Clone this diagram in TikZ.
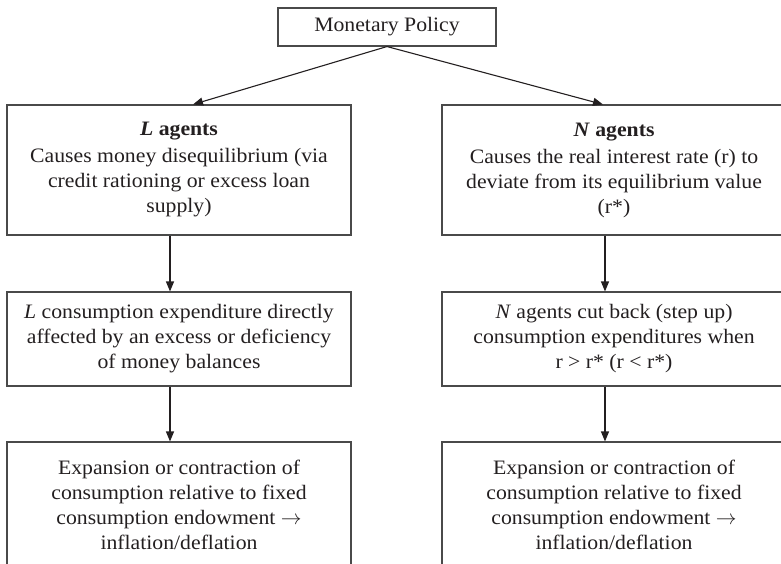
\documentclass[tikz,border=0pt]{standalone}
\usepackage{fontspec}
\setmainfont{Liberation Serif}[FakeStretch=1.06]
\usetikzlibrary{arrows.meta}
\definecolor{framegray}{HTML}{4A4A4A}
\definecolor{inkgray}{HTML}{231F20}
\begin{document}
\begin{tikzpicture}[x=1pt,y=-1pt,
  box/.style={draw=framegray, line width=1.1pt, align=center, inner sep=0pt,
    text=inkgray, font=\fontsize{20.5}{25}\selectfont},
  sidebox/.style={box, minimum width=344pt},
  flow/.style={draw=inkgray, line width=1.1pt, -{Triangle[length=10pt,width=8pt]}}]
  \useasboundingbox (0,0) rectangle (781,564);
  \clip (0,0) rectangle (781,564);

  % top node
  \node[box, minimum width=218pt, minimum height=38pt] (mp) at (387,27) {Monetary Policy};

  % left column (L agents)
  \node[sidebox, minimum height=130pt] (L1) at (179,170)
    {\textbf{\textit{L} agents}\\[2pt]
     Causes money disequilibrium (via\\
     credit rationing or excess loan\\
     supply)};
  \node[sidebox, minimum height=94pt] (L2) at (179,339)
    {\textit{L} consumption expenditure directly\\
     affected by an excess or deficiency\\
     of money balances};
  \node[sidebox, minimum height=126pt] (L3) at (179,505)
    {Expansion or contraction of\\
     consumption relative to fixed\\
     consumption endowment $\rightarrow$\\
     inflation/deflation};

  % right column (N agents)
  \node[sidebox, minimum height=130pt] (N1) at (614,170)
    {\textbf{\textit{N} agents}\\[2pt]
     Causes the real interest rate (r) to\\
     deviate from its equilibrium value\\
     (r*)};
  \node[sidebox, minimum height=94pt] (N2) at (614,339)
    {\textit{N} agents cut back (step up)\\
     consumption expenditures when\\
     r > r* (r < r*)};
  \node[sidebox, minimum height=126pt] (N3) at (614,505)
    {Expansion or contraction of\\
     consumption relative to fixed\\
     consumption endowment $\rightarrow$\\
     inflation/deflation};

  % connectors
  \draw[flow] (mp.south) -- ([xshift=14pt]L1.north);
  \draw[flow] (mp.south) -- ([xshift=-11pt]N1.north);
  \draw[flow] ([xshift=-9pt]L1.south) -- ([xshift=-9pt]L2.north);
  \draw[flow] ([xshift=-9pt]L2.south) -- ([xshift=-9pt]L3.north);
  \draw[flow] ([xshift=-9pt]N1.south) -- ([xshift=-9pt]N2.north);
  \draw[flow] ([xshift=-9pt]N2.south) -- ([xshift=-9pt]N3.north);
\end{tikzpicture}
\end{document}
